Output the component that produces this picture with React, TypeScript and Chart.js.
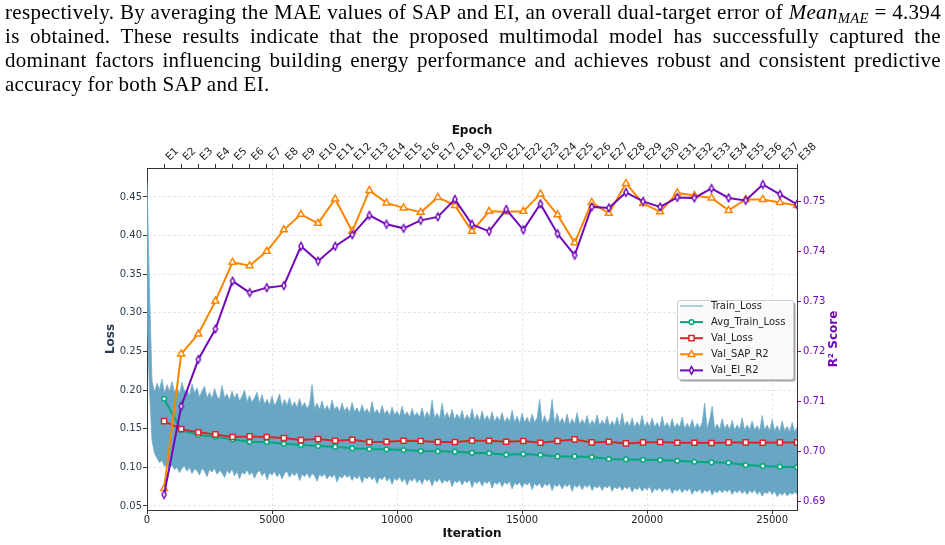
import React, { useEffect, useRef } from 'react';
import { Chart, registerables } from 'chart.js';

Chart.register(...registerables);

// ---------------- data ----------------
const seriesNames = ['Train_Loss', 'Avg_Train_Loss', 'Val_Loss', 'Val_SAP_R2', 'Val_EI_R2'];
const epochLabels = [
  'E1', 'E2', 'E3', 'E4', 'E5', 'E6', 'E7', 'E8', 'E9', 'E10',
  'E11', 'E12', 'E13', 'E14', 'E15', 'E16', 'E17', 'E18', 'E19', 'E20',
  'E21', 'E22', 'E23', 'E24', 'E25', 'E26', 'E27', 'E28', 'E29', 'E30',
  'E31', 'E32', 'E33', 'E34', 'E35', 'E36', 'E37', 'E38',
];
const itersPerEpoch = 684;
const iterationMax = 25992;
const trainLogStep = 100;
const iterationTicks = [0, 5000, 10000, 15000, 20000, 25000];
const lossTicks = [0.05, 0.1, 0.15, 0.2, 0.25, 0.3, 0.35, 0.4, 0.45];
const r2Ticks = [0.69, 0.7, 0.71, 0.72, 0.73, 0.74, 0.75];
const lossRange = [0.0448, 0.4875];
const r2Range = [0.6882, 0.7568];

const avgTrainLoss = [
  0.1888, 0.1483, 0.1418, 0.1397, 0.1362, 0.1332, 0.1328, 0.1306, 0.1289, 0.1276,
  0.1267, 0.1246, 0.1237, 0.1233, 0.1224, 0.1211, 0.1207, 0.1203, 0.119, 0.1181,
  0.1164, 0.1172, 0.1159, 0.1142, 0.1142, 0.1134, 0.1108, 0.1103, 0.1099, 0.1095,
  0.1086, 0.1073, 0.1065, 0.106, 0.103, 0.1017, 0.1009, 0.1,
];
const valLoss = [
  0.1599, 0.1496, 0.1453, 0.1427, 0.1392, 0.1401, 0.1392, 0.1379, 0.1353, 0.1366,
  0.1345, 0.1358, 0.1328, 0.1332, 0.1345, 0.1341, 0.1328, 0.1328, 0.1345, 0.1345,
  0.1332, 0.1341, 0.1319, 0.1341, 0.1362, 0.1323, 0.1332, 0.131, 0.1323, 0.1328,
  0.1319, 0.1319, 0.1315, 0.1323, 0.1323, 0.1319, 0.1323, 0.1323,
];
const valSapR2 = [
  0.6925, 0.7195, 0.7235, 0.7301, 0.7379, 0.7372, 0.7401, 0.7444, 0.7475, 0.7457,
  0.7506, 0.7441, 0.7523, 0.7498, 0.7488, 0.7479, 0.7509, 0.7493, 0.7441, 0.7481,
  0.748, 0.7481, 0.7516, 0.7474, 0.7418, 0.7499, 0.7477, 0.7537, 0.7497, 0.748,
  0.7518, 0.7513, 0.7508, 0.7483, 0.7505, 0.7505, 0.7499, 0.7493,
];
const valEiR2 = [
  0.6913, 0.709, 0.7184, 0.7245, 0.7341, 0.7318, 0.7328, 0.7332, 0.7411, 0.7381,
  0.7411, 0.7434, 0.7473, 0.7455, 0.7447, 0.7463, 0.747, 0.7505, 0.7455, 0.7441,
  0.7485, 0.7444, 0.7496, 0.7436, 0.7393, 0.749, 0.7488, 0.7519, 0.7501, 0.749,
  0.7509, 0.7508, 0.7527, 0.7508, 0.7503, 0.7535, 0.7515, 0.7495,
];
// per-iteration training loss, read as the upper and lower edge of the noisy band (every 100 iterations)
const trainLossUpper = [
  0.47, 0.33, 0.212, 0.198, 0.209, 0.201, 0.214, 0.196, 0.207, 0.199,
  0.211, 0.197, 0.204, 0.195, 0.21, 0.198, 0.2, 0.193, 0.208, 0.196,
  0.203, 0.191, 0.199, 0.205, 0.19, 0.197, 0.189, 0.202, 0.192, 0.188,
  0.206, 0.19, 0.195, 0.187, 0.199, 0.189, 0.196, 0.186, 0.192, 0.2,
  0.185, 0.193, 0.184, 0.19, 0.197, 0.183, 0.194, 0.182, 0.188, 0.181,
  0.192, 0.18, 0.186, 0.195, 0.179, 0.188, 0.18, 0.19, 0.178, 0.185,
  0.177, 0.189, 0.178, 0.184, 0.176, 0.182, 0.207, 0.176, 0.183, 0.175,
  0.186, 0.174, 0.18, 0.173, 0.187, 0.175, 0.179, 0.172, 0.183, 0.173,
  0.178, 0.171, 0.184, 0.172, 0.177, 0.17, 0.181, 0.171, 0.176, 0.169,
  0.185, 0.17, 0.175, 0.168, 0.18, 0.169, 0.174, 0.167, 0.178, 0.168,
  0.173, 0.166, 0.179, 0.167, 0.172, 0.165, 0.176, 0.166, 0.171, 0.165,
  0.177, 0.164, 0.172, 0.165, 0.187, 0.164, 0.17, 0.163, 0.183, 0.164,
  0.171, 0.163, 0.175, 0.162, 0.169, 0.163, 0.174, 0.161, 0.168, 0.162,
  0.176, 0.161, 0.169, 0.16, 0.173, 0.161, 0.167, 0.16, 0.172, 0.159,
  0.166, 0.16, 0.171, 0.158, 0.165, 0.159, 0.174, 0.158, 0.166, 0.157,
  0.17, 0.158, 0.165, 0.157, 0.169, 0.158, 0.164, 0.188, 0.157, 0.167,
  0.157, 0.163, 0.188, 0.156, 0.17, 0.157, 0.164, 0.156, 0.169, 0.155,
  0.163, 0.156, 0.171, 0.155, 0.162, 0.156, 0.167, 0.154, 0.161, 0.155,
  0.168, 0.154, 0.161, 0.155, 0.166, 0.153, 0.16, 0.154, 0.165, 0.153,
  0.17, 0.154, 0.16, 0.153, 0.164, 0.152, 0.159, 0.153, 0.167, 0.152,
  0.159, 0.153, 0.164, 0.152, 0.158, 0.151, 0.166, 0.152, 0.158, 0.151,
  0.163, 0.151, 0.157, 0.152, 0.165, 0.15, 0.157, 0.151, 0.162, 0.15,
  0.157, 0.151, 0.158, 0.183, 0.15, 0.162, 0.179, 0.15, 0.156, 0.149,
  0.163, 0.15, 0.156, 0.149, 0.161, 0.148, 0.155, 0.149, 0.164, 0.148,
  0.155, 0.149, 0.16, 0.148, 0.154, 0.147, 0.167, 0.148, 0.155, 0.147,
  0.162, 0.147, 0.154, 0.146, 0.16, 0.147, 0.153, 0.146, 0.158, 0.146,
  0.152,
];
const trainLossLower = [
  0.3, 0.2, 0.135, 0.118, 0.112, 0.106, 0.109, 0.101, 0.105, 0.099,
  0.103, 0.097, 0.1, 0.093, 0.099, 0.102, 0.095, 0.1, 0.092, 0.098,
  0.096, 0.09, 0.099, 0.095, 0.088, 0.097, 0.094, 0.099, 0.091, 0.096,
  0.093, 0.087, 0.096, 0.092, 0.098, 0.089, 0.095, 0.085, 0.094, 0.091,
  0.097, 0.09, 0.094, 0.086, 0.093, 0.096, 0.089, 0.094, 0.084, 0.093,
  0.09, 0.095, 0.088, 0.093, 0.085, 0.092, 0.095, 0.087, 0.093, 0.089,
  0.094, 0.083, 0.091, 0.088, 0.093, 0.086, 0.092, 0.089, 0.082, 0.091,
  0.088, 0.092, 0.085, 0.09, 0.087, 0.091, 0.081, 0.089, 0.086, 0.091,
  0.087, 0.09, 0.083, 0.089, 0.085, 0.09, 0.08, 0.088, 0.085, 0.089,
  0.084, 0.088, 0.079, 0.087, 0.084, 0.089, 0.082, 0.087, 0.078, 0.086,
  0.083, 0.088, 0.081, 0.086, 0.077, 0.085, 0.082, 0.087, 0.08, 0.085,
  0.078, 0.086, 0.082, 0.085, 0.076, 0.084, 0.081, 0.086, 0.079, 0.084,
  0.081, 0.085, 0.075, 0.083, 0.08, 0.084, 0.077, 0.083, 0.08, 0.084,
  0.074, 0.082, 0.079, 0.083, 0.076, 0.082, 0.079, 0.083, 0.073, 0.081,
  0.078, 0.082, 0.075, 0.081, 0.078, 0.082, 0.072, 0.08, 0.077, 0.081,
  0.074, 0.08, 0.077, 0.081, 0.071, 0.079, 0.076, 0.08, 0.073, 0.079,
  0.076, 0.08, 0.07, 0.078, 0.075, 0.079, 0.072, 0.078, 0.075, 0.079,
  0.069, 0.077, 0.074, 0.078, 0.071, 0.077, 0.074, 0.078, 0.07, 0.076,
  0.073, 0.077, 0.07, 0.076, 0.073, 0.077, 0.069, 0.075, 0.072, 0.076,
  0.07, 0.075, 0.072, 0.076, 0.068, 0.074, 0.071, 0.075, 0.069, 0.074,
  0.071, 0.075, 0.067, 0.073, 0.07, 0.074, 0.068, 0.073, 0.07, 0.074,
  0.066, 0.072, 0.069, 0.073, 0.067, 0.072, 0.069, 0.073, 0.065, 0.071,
  0.068, 0.072, 0.066, 0.071, 0.068, 0.072, 0.064, 0.07, 0.067, 0.071,
  0.067, 0.071, 0.068, 0.072, 0.065, 0.07, 0.067, 0.071, 0.066, 0.07,
  0.065, 0.07, 0.067, 0.071, 0.065, 0.069, 0.063, 0.068, 0.066, 0.07,
  0.065, 0.069, 0.062, 0.067, 0.064, 0.068, 0.063, 0.067, 0.065, 0.068,
  0.065,
];

// ---------------- styles ----------------
const FONT = '"DejaVu Sans", sans-serif';
const TRAIN = 'rgb(104,166,196)';
const TRAIN_EDGE = 'rgb(118,176,203)';
const TRAIN_LEGEND = 'rgb(146,194,216)';
const GREEN = '#06a77d';
const RED = '#d62828';
const ORANGE = '#fb8500';
const PURPLE = '#7209b7';
const SLATE = '#2c3e50';
const SPINE = '#333333';
const GRID = '#e0e0e0';

function makeThinDiamond(color: string) {
  const c = document.createElement('canvas');
  c.width = 10;
  c.height = 14;
  const g = c.getContext('2d')!;
  g.beginPath();
  g.moveTo(5, 3.2);
  g.lineTo(7.1, 7);
  g.lineTo(5, 10.8);
  g.lineTo(2.9, 7);
  g.closePath();
  g.fillStyle = '#ffffff';
  g.fill();
  g.lineWidth = 1.5;
  g.strokeStyle = color;
  g.stroke();
  return c;
}

function roundRectPath(ctx: CanvasRenderingContext2D, x: number, y: number, w: number, h: number, r: number) {
  ctx.beginPath();
  ctx.moveTo(x + r, y);
  ctx.lineTo(x + w - r, y);
  ctx.arcTo(x + w, y, x + w, y + r, r);
  ctx.lineTo(x + w, y + h - r);
  ctx.arcTo(x + w, y + h, x + w - r, y + h, r);
  ctx.lineTo(x + r, y + h);
  ctx.arcTo(x, y + h, x, y + h - r, r);
  ctx.lineTo(x, y + r);
  ctx.arcTo(x, y, x + r, y, r);
  ctx.closePath();
}

const overlayPlugin = {
  id: 'overlay',
  afterDraw(chart: any) {
    const { ctx, chartArea } = chart;
    // right axis title
    ctx.save();
    ctx.translate(834, (chartArea.top + chartArea.bottom) / 2);
    ctx.rotate(-Math.PI / 2);
    ctx.font = 'bold 12px ' + FONT;
    ctx.fillStyle = PURPLE;
    ctx.textAlign = 'center';
    ctx.textBaseline = 'middle';
    ctx.fillText('R² Score', 0, 0);
    ctx.restore();

    // legend
    const bx = 677.5, by = 300.5, bw = 116, bh = 79;
    ctx.save();
    roundRectPath(ctx, bx + 2, by + 2, bw, bh, 2.5);
    ctx.fillStyle = 'rgba(77,77,77,0.5)';
    ctx.fill();
    roundRectPath(ctx, bx, by, bw, bh, 2.5);
    ctx.fillStyle = 'rgba(255,255,255,0.95)';
    ctx.fill();
    ctx.strokeStyle = '#cccccc';
    ctx.lineWidth = 1;
    ctx.stroke();

    const colors = [TRAIN_LEGEND, GREEN, RED, ORANGE, PURPLE];
    const markers = ['none', 'circle', 'square', 'triangle', 'diamond'];
    ctx.font = '10px ' + FONT;
    ctx.textBaseline = 'middle';
    ctx.textAlign = 'left';
    seriesNames.forEach((name, i) => {
      const cy = 306 + i * 16.1;
      const lx1 = 680, lx2 = 703, mx = 691.5;
      ctx.strokeStyle = colors[i];
      ctx.lineWidth = i === 0 ? 1.5 : 2;
      ctx.beginPath();
      ctx.moveTo(lx1, cy);
      ctx.lineTo(lx2, cy);
      ctx.stroke();
      ctx.lineWidth = 1.5;
      ctx.fillStyle = '#ffffff';
      const m = markers[i];
      if (m !== 'none') {
        ctx.beginPath();
        if (m === 'circle') {
          ctx.arc(mx, cy, 2.4, 0, Math.PI * 2);
        } else if (m === 'square') {
          ctx.rect(mx - 2.6, cy - 2.6, 5.2, 5.2);
        } else if (m === 'triangle') {
          ctx.moveTo(mx, cy - 3.6);
          ctx.lineTo(mx + 3.3, cy + 2.2);
          ctx.lineTo(mx - 3.3, cy + 2.2);
          ctx.closePath();
        } else {
          ctx.moveTo(mx, cy - 3.8);
          ctx.lineTo(mx + 2.1, cy);
          ctx.lineTo(mx, cy + 3.8);
          ctx.lineTo(mx - 2.1, cy);
          ctx.closePath();
        }
        ctx.fill();
        ctx.stroke();
      }
      ctx.fillStyle = '#222222';
      ctx.fillText(name, 711, cy);
    });
    ctx.restore();
  },
};

const justifyLine: React.CSSProperties = {
  display: 'flex',
  justifyContent: 'space-between',
  whiteSpace: 'nowrap',
  height: 24,
};

function JLine({ words }: { words: React.ReactNode[] }) {
  return (
    <div style={justifyLine}>
      {words.map((w, i) => (
        <span key={i}>{w}</span>
      ))}
    </div>
  );
}

export default function App() {
  const ref = useRef<HTMLCanvasElement>(null);

  useEffect(() => {
    if (!ref.current) return;
    const epochPts = (arr: number[]) => arr.map((v, i) => ({ x: (i + 1) * itersPerEpoch, y: v }));
    const trainPts = (arr: number[]) => arr.map((v, i) => ({ x: i * trainLogStep, y: v }));
    const diamond = makeThinDiamond(PURPLE);

    const tickFont = { family: FONT, size: 10 };
    const epochFont = { family: FONT, size: 10.5 };
    const titleFont = { family: FONT, size: 12, weight: 'bold' as const };

    const chart = new Chart(ref.current, {
      type: 'line',
      data: {
        datasets: [
          {
            label: seriesNames[4], data: epochPts(valEiR2), yAxisID: 'y1', xAxisID: 'x',
            borderColor: PURPLE, borderWidth: 2, pointStyle: diamond as any, pointRadius: 4,
            pointBackgroundColor: '#fff', pointBorderColor: PURPLE, fill: false, tension: 0,
          },
          {
            label: seriesNames[3], data: epochPts(valSapR2), yAxisID: 'y1', xAxisID: 'x',
            borderColor: ORANGE, borderWidth: 2, pointStyle: 'triangle', pointRadius: 4,
            pointBorderWidth: 1.5, pointBackgroundColor: '#fff', pointBorderColor: ORANGE, fill: false, tension: 0,
          },
          {
            label: seriesNames[2], data: epochPts(valLoss), yAxisID: 'y', xAxisID: 'x',
            borderColor: RED, borderWidth: 2, pointStyle: 'rect', pointRadius: 3.6,
            pointBorderWidth: 1.5, pointBackgroundColor: '#fff', pointBorderColor: RED, fill: false, tension: 0,
          },
          {
            label: seriesNames[1], data: epochPts(avgTrainLoss), yAxisID: 'y', xAxisID: 'x',
            borderColor: GREEN, borderWidth: 2, pointStyle: 'circle', pointRadius: 2.3,
            pointBorderWidth: 1.5, pointBackgroundColor: '#fff', pointBorderColor: GREEN, fill: false, tension: 0,
          },
          {
            label: seriesNames[0], data: trainPts(trainLossUpper), yAxisID: 'y', xAxisID: 'x',
            borderColor: TRAIN_EDGE, borderWidth: 0.8, pointRadius: 0, backgroundColor: TRAIN, fill: '+1', tension: 0,
          },
          {
            label: seriesNames[0] + ' (low)', data: trainPts(trainLossLower), yAxisID: 'y', xAxisID: 'x',
            borderColor: TRAIN_EDGE, borderWidth: 0.8, pointRadius: 0, fill: false, tension: 0,
          },
        ],
      },
      options: {
        responsive: false,
        animation: false,
        devicePixelRatio: 1,
        layout: { padding: 0 },
        plugins: { legend: { display: false }, tooltip: { enabled: false } },
        scales: {
          x: {
            type: 'linear', position: 'bottom', min: 0, max: iterationMax,
            afterBuildTicks: (s: any) => { s.ticks = iterationTicks.map((v) => ({ value: v })); },
            afterFit: (s: any) => { s.height = 35; },
            ticks: { font: tickFont, color: '#222', padding: 0.5, maxRotation: 0, autoSkip: false, callback: (v: any) => String(v) },
            grid: { color: GRID, lineWidth: 0.8, drawTicks: true, tickLength: 4, tickColor: SPINE, tickWidth: 1 },
            border: { display: true, color: SPINE, width: 1, dash: [3, 2] },
            title: { display: true, text: 'Iteration', font: titleFont, color: '#111', padding: { top: 0, bottom: 4.3 } },
          },
          x2: {
            type: 'linear', position: 'top', min: 0, max: iterationMax,
            afterBuildTicks: (s: any) => { s.ticks = epochLabels.map((_, i) => ({ value: (i + 1) * itersPerEpoch })); },
            afterFit: (s: any) => { s.height = 168; },
            ticks: {
              font: epochFont, color: '#222', padding: 0.6, minRotation: 45, maxRotation: 45, autoSkip: false,
              labelOffset: 12.5, callback: (_v: any, i: number) => epochLabels[i],
            },
            grid: { drawOnChartArea: false, drawTicks: true, tickLength: 4, tickColor: SPINE, color: SPINE },
            border: { display: true, color: SPINE, width: 1 },
            title: { display: true, text: 'Epoch', font: titleFont, color: '#111', padding: { top: 123.3, bottom: 0 } },
          },
          y: {
            type: 'linear', position: 'left', min: lossRange[0], max: lossRange[1],
            afterBuildTicks: (s: any) => { s.ticks = lossTicks.map((v) => ({ value: v })); },
            afterFit: (s: any) => { s.width = 147; },
            ticks: { font: tickFont, color: SLATE, padding: 1, callback: (v: any) => Number(v).toFixed(2) },
            grid: { color: GRID, lineWidth: 0.8, drawTicks: true, tickLength: 4, tickColor: SPINE, tickWidth: 1 },
            border: { display: true, color: SPINE, width: 1, dash: [3, 2] },
            title: { display: true, text: 'Loss', font: titleFont, color: SLATE, padding: { top: 103.8, bottom: 0 } },
          },
          y1: {
            type: 'linear', position: 'right', min: r2Range[0], max: r2Range[1],
            afterBuildTicks: (s: any) => { s.ticks = r2Ticks.map((v) => ({ value: v })); },
            afterFit: (s: any) => { s.width = 148; },
            ticks: { font: tickFont, color: PURPLE, padding: 2, callback: (v: any) => Number(v).toFixed(2) },
            grid: { drawOnChartArea: false, drawTicks: true, tickLength: 4, tickColor: PURPLE, color: PURPLE },
            border: { display: true, color: SPINE, width: 1 },
            title: { display: false },
          },
        },
      } as any,
      plugins: [overlayPlugin],
    });
    return () => chart.destroy();
  }, []);

  const sub = (
    <span>
      <i>Mean</i>
      <i style={{ fontSize: '0.7em', position: 'relative', top: '0.3em' }}>MAE</i>
    </span>
  );

  return (
    <div style={{ position: 'absolute', left: 0, top: 0, width: 945, height: 545, background: '#fff', overflow: 'hidden' }}>
      <canvas ref={ref} width={945} height={545} style={{ position: 'absolute', left: 0, top: 0, width: 945, height: 545, display: 'block' }} />
      <div
        style={{
          position: 'absolute', left: 5, top: 0, width: 936,
          fontFamily: '"Liberation Serif", "Times New Roman", serif', fontSize: 21, lineHeight: '24px', color: '#000',
          letterSpacing: '0.3px',
        }}
      >
        <JLine words={['respectively.', 'By', 'averaging', 'the', 'MAE', 'values', 'of', 'SAP', 'and', 'EI,', 'an', 'overall', 'dual-target', 'error', 'of', sub, '=', '4.394']} />
        <JLine words={['is', 'obtained.', 'These', 'results', 'indicate', 'that', 'the', 'proposed', 'multimodal', 'model', 'has', 'successfully', 'captured', 'the']} />
        <JLine words={['dominant', 'factors', 'influencing', 'building', 'energy', 'performance', 'and', 'achieves', 'robust', 'and', 'consistent', 'predictive']} />
        <div style={{ height: 24, whiteSpace: 'nowrap' }}>accuracy for both SAP and EI.</div>
      </div>
    </div>
  );
}
